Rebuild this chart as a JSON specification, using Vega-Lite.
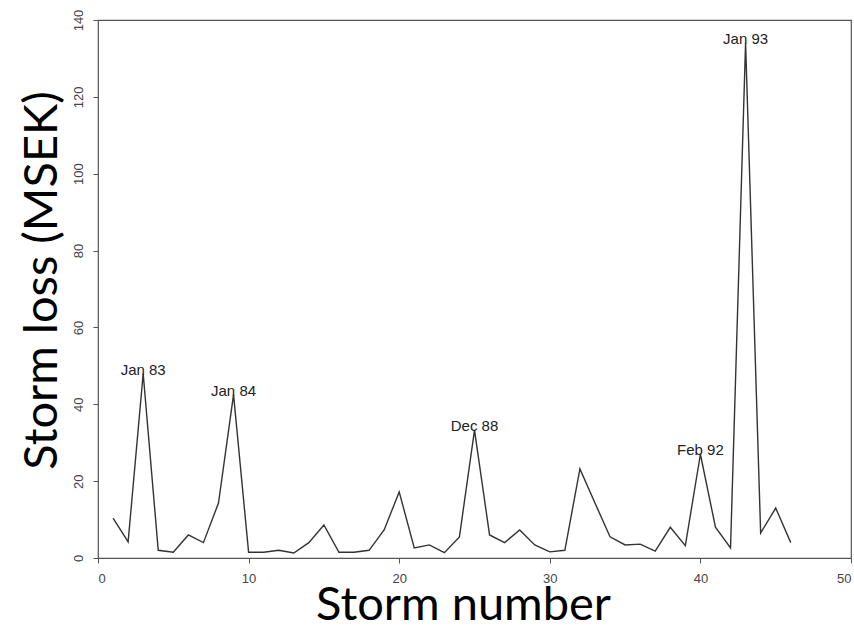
{
  "$schema": "https://vega.github.io/schema/vega-lite/v6.json",
  "autosize": "none",
  "width": 753,
  "height": 538,
  "padding": {"left": 98, "top": 20, "right": 3, "bottom": 71},
  "background": "white",
  "config": {
    "view": {"stroke": "#555", "strokeWidth": 1.2},
    "axis": {
      "grid": false,
      "domain": false,
      "tickColor": "#555",
      "tickSize": 5,
      "labelColor": "#444",
      "labelFont": "Liberation Sans",
      "labelFontSize": 13,
      "titleFont": "Lato",
      "titleFontWeight": "normal",
      "titleFontSize": 47,
      "titleColor": "black"
    }
  },
  "data": {
    "values": [
      {"storm": 1, "loss": 10.4, "label": ""},
      {"storm": 2, "loss": 4.2, "label": ""},
      {"storm": 3, "loss": 48, "label": "Jan 83"},
      {"storm": 4, "loss": 2, "label": ""},
      {"storm": 5, "loss": 1.5, "label": ""},
      {"storm": 6, "loss": 6, "label": ""},
      {"storm": 7, "loss": 4, "label": ""},
      {"storm": 8, "loss": 14.3, "label": ""},
      {"storm": 9, "loss": 42.5, "label": "Jan 84"},
      {"storm": 10, "loss": 1.5, "label": ""},
      {"storm": 11, "loss": 1.5, "label": ""},
      {"storm": 12, "loss": 2, "label": ""},
      {"storm": 13, "loss": 1.3, "label": ""},
      {"storm": 14, "loss": 4, "label": ""},
      {"storm": 15, "loss": 8.6, "label": ""},
      {"storm": 16, "loss": 1.5, "label": ""},
      {"storm": 17, "loss": 1.5, "label": ""},
      {"storm": 18, "loss": 2, "label": ""},
      {"storm": 19, "loss": 7.3, "label": ""},
      {"storm": 20, "loss": 17.2, "label": ""},
      {"storm": 21, "loss": 2.6, "label": ""},
      {"storm": 22, "loss": 3.4, "label": ""},
      {"storm": 23, "loss": 1.4, "label": ""},
      {"storm": 24, "loss": 5.5, "label": ""},
      {"storm": 25, "loss": 33.3, "label": "Dec 88"},
      {"storm": 26, "loss": 6, "label": ""},
      {"storm": 27, "loss": 4, "label": ""},
      {"storm": 28, "loss": 7.3, "label": ""},
      {"storm": 29, "loss": 3.4, "label": ""},
      {"storm": 30, "loss": 1.6, "label": ""},
      {"storm": 31, "loss": 2, "label": ""},
      {"storm": 32, "loss": 23.2, "label": ""},
      {"storm": 33, "loss": 14.3, "label": ""},
      {"storm": 34, "loss": 5.5, "label": ""},
      {"storm": 35, "loss": 3.4, "label": ""},
      {"storm": 36, "loss": 3.6, "label": ""},
      {"storm": 37, "loss": 1.8, "label": ""},
      {"storm": 38, "loss": 8, "label": ""},
      {"storm": 39, "loss": 3.2, "label": ""},
      {"storm": 40, "loss": 27, "label": "Feb 92"},
      {"storm": 41, "loss": 8, "label": ""},
      {"storm": 42, "loss": 2.6, "label": ""},
      {"storm": 43, "loss": 134, "label": "Jan 93"},
      {"storm": 44, "loss": 6.5, "label": ""},
      {"storm": 45, "loss": 13, "label": ""},
      {"storm": 46, "loss": 4, "label": ""}
    ]
  },
  "encoding": {
    "x": {
      "field": "storm",
      "type": "quantitative",
      "scale": {"domain": [0, 50], "nice": false, "zero": false},
      "axis": {
        "values": [0, 10, 20, 30, 40, 50],
        "title": "Storm number",
        "labelPadding": 9,
        "titleX": 365,
        "titleY": 61,
        "titleBaseline": "alphabetic",
        "titleAlign": "center"
      }
    },
    "y": {
      "field": "loss",
      "type": "quantitative",
      "scale": {"domain": [0, 140], "nice": false},
      "axis": {
        "values": [0, 20, 40, 60, 80, 100, 120, 140],
        "title": "Storm loss (MSEK)",
        "labelAngle": -90,
        "labelAlign": "center",
        "labelBaseline": "bottom",
        "labelPadding": 8,
        "titleAngle": -90,
        "titleX": -42,
        "titleY": 260,
        "titleBaseline": "alphabetic",
        "titleAlign": "center"
      }
    }
  },
  "layer": [
    {
      "mark": {"type": "line", "color": "#333", "strokeWidth": 1.4}
    },
    {
      "transform": [{"filter": "datum.label != ''"}],
      "mark": {"type": "text", "font": "Liberation Sans", "fontSize": 15, "color": "#222", "align": "center", "baseline": "alphabetic", "dy": 1},
      "encoding": {"text": {"field": "label"}}
    }
  ]
}
